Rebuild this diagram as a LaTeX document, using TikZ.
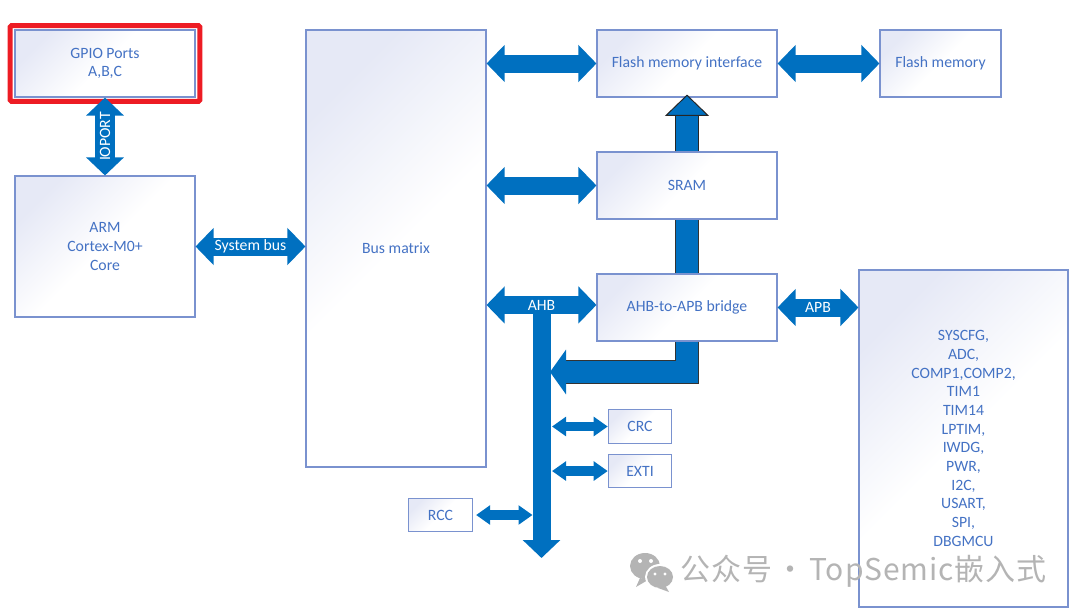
\documentclass[tikz,border=0pt]{standalone}
\usepackage{fontspec}
\setmainfont{Carlito}
\newfontfamily\markfont[LetterSpace=3]{Noto Sans CJK SC}
\usetikzlibrary{arrows.meta,fit}
\definecolor{busblue}{HTML}{0070C0}
\definecolor{boxline}{HTML}{7A92CF}
\definecolor{boxtext}{HTML}{4472C4}
\definecolor{boxtint}{HTML}{E6E9F6}
\definecolor{marked}{HTML}{ED1C24}
\definecolor{markgrey}{HTML}{B4B4B4}

\begin{document}
\begin{tikzpicture}[x=0.75pt, y=-0.75pt,
    main/.style = {draw=boxline, line width=0.8pt, top color=boxtint, bottom color=white, middle color=white, shading angle=45, text=boxtext, align=center, inner sep=0pt, font=\fontsize{11.8}{14}\selectfont},
    bus/.style = {<->, >={Triangle[length=13.5pt,width=27pt]}, draw=busblue, line width=13.5pt},
    iobus/.style = {<->, >={Triangle[length=13.5pt,width=27.5pt]}, draw=busblue, line width=15pt},
    smallbus/.style = {<->, >={Triangle[length=10.5pt,width=14pt]}, draw=busblue, line width=7pt},
    downbus/.style = {->, >={Triangle[length=13.5pt,width=27.5pt]}, draw=busblue, line width=13.5pt},
    widebus/.style = {draw=busblue, line width=17pt, preaction={draw=black!80, line width=18.2pt}},
    buslabel/.style = {text=white, inner sep=1pt, font=\fontsize{11.8}{14}\selectfont}]
    \useasboundingbox (0,0) rectangle (1080,614);

    \node[main, minimum width=135pt, minimum height=50.25pt] (gpio) at (105,63.5) {GPIO Ports\\A,B,C};
    \node[main, minimum width=135pt, minimum height=105.75pt] (arm) [below of=gpio, node distance=137.25pt] {ARM\\Cortex-M0+\\Core};
    \node[main, minimum width=135pt, minimum height=327.75pt] (matrix) at (396,248.5) {Bus matrix};
    \node[main, minimum width=135pt, minimum height=50.25pt] (flashif) at (687,63.5) {Flash memory interface};
    \node[main, minimum width=135pt, minimum height=50.25pt] (sram) [below of=flashif, node distance=91.5pt] {SRAM};
    \node[main, minimum width=135pt, minimum height=50.25pt] (bridge) [below of=sram, node distance=91.5pt] {AHB-to-APB bridge};
    \node[main, minimum width=90.75pt, minimum height=50.25pt] (flash) at (940.5,63.5) {Flash memory};
    \node[main, minimum width=156.75pt, minimum height=252.75pt] (periph) at (963.5,438.5) {SYSCFG,\\ADC,\\COMP1,COMP2,\\TIM1\\TIM14\\LPTIM,\\IWDG,\\PWR,\\I2C,\\USART,\\SPI,\\DBGMCU};
    \node[main, minimum width=47.6pt, minimum height=25pt] (crc) at (640,426.5) {CRC};
    \node[main, minimum width=47.6pt, minimum height=25pt] (exti) [below of=crc, node distance=33.4pt] {EXTI};
    \node[main, minimum width=47.6pt, minimum height=25pt] (rcc) at (440.5,515) {RCC};

    \node[draw=marked, line width=3.75pt, rounded corners=1pt, inner xsep=3.2pt, inner ysep=2.8pt, fit=(gpio)] (mark) {};

    \coordinate (vleft) at (532.5,557);
    \coordinate (vright) at (552,557);
    \coordinate (bustop) at (541.5,305);
    \coordinate (busend) at (541.5,558);
    \coordinate (busin) at (550,372);

    \draw[iobus] (arm.north) -- node[buslabel, rotate=90] (ioport) {IOPORT} (gpio.south);
    \draw[bus] (arm.east) -- node[buslabel] (sysbus) {System bus} (arm.east -| matrix.west);
    \draw[bus] (flashif.west) -- (flashif.west -| matrix.east);
    \draw[bus] (flashif.east) -- (flashif.east -| flash.west);
    \draw[bus] (sram.west) -- (sram.west -| matrix.east);
    \draw[downbus] (bustop) -- (busend);
    \draw[bus] ([yshift=1.9pt]bridge.west) -- node[buslabel] (ahb) {AHB} ([yshift=1.9pt]bridge.west -| matrix.east);
    \draw[bus] (bridge.east) -- node[buslabel] (apb) {APB} (bridge.east -| periph.west);

    \draw[smallbus] (crc.west) -- (crc.west -| vright);
    \draw[smallbus] (exti.west) -- (exti.west -| vright);
    \draw[smallbus, shorten <=2.5pt] (rcc.east) -- (rcc.east -| vleft);

    \draw[widebus] (bridge.north) -- (sram.south);
    \draw[draw=busblue, line width=17pt, preaction={draw=black!80, line width=18.2pt, -, shorten >=11pt}, -{Triangle[length=12pt,width=33pt]}] (bridge.south) |- (busin);
    \draw[draw=busblue, line width=17pt, preaction={draw=black!85, line width=18.2pt, -, shorten >=12pt}, shorten >=-2.25pt, -{Triangle[length=16pt,width=33pt,fill=busblue,color=black!85,line width=.75pt]}] (sram.north) -- (flashif.south);

    \fill[markgrey] (645,566) ellipse (15 and 13);
    \fill[markgrey] (640,578) -- (636,587) -- (648,580) -- cycle;
    \fill[white] (660,577) ellipse (15 and 13);
    \fill[markgrey] (660,577) ellipse (13 and 11);
    \fill[markgrey] (665,585) -- (669,592) -- (658,588) -- cycle;
    \fill[white] (640,561) circle (2) (651,561) circle (2) (655,574) circle (1.7) (665,574) circle (1.7);
    \node[text=markgrey, anchor=west, inner sep=0pt, font=\fontsize{22.5}{26}\markfont] (watermark) at (680,571) {公众号\hspace{-3pt} · \hspace{-3pt}TopSemic嵌入式};
\end{tikzpicture}
\end{document}
